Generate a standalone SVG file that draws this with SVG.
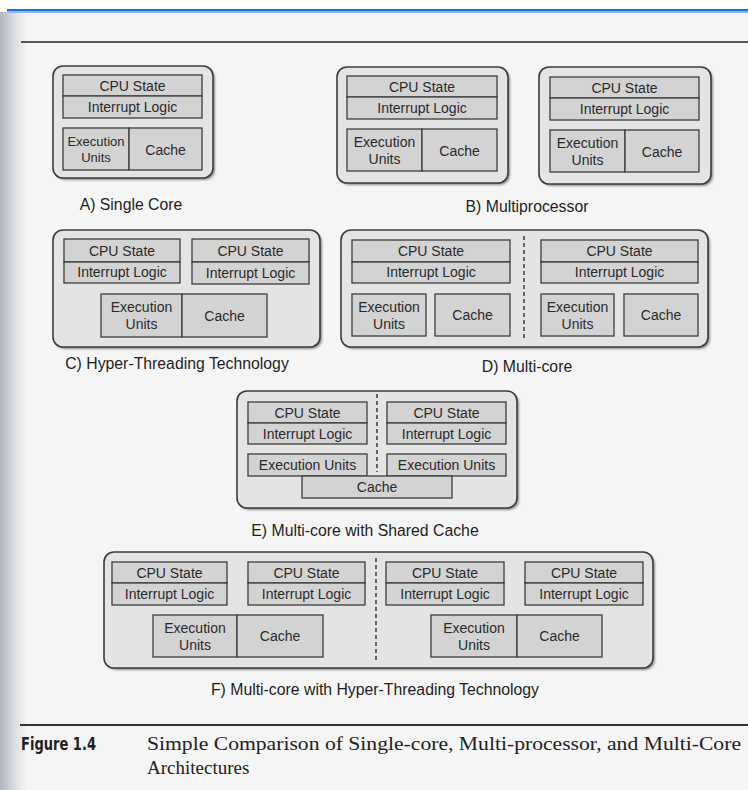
<svg xmlns="http://www.w3.org/2000/svg" width="748" height="790" viewBox="0 0 748 790">
  <defs>
    <linearGradient id="edge" x1="0" y1="0" x2="1" y2="0">
      <stop offset="0" stop-color="#b4b6be"/>
      <stop offset="0.5" stop-color="#d8d9de"/>
      <stop offset="1" stop-color="#f3f3f3"/>
    </linearGradient>
    <filter id="soft" x="-5%" y="-5%" width="110%" height="110%">
      <feGaussianBlur stdDeviation="1"/>
    </filter>
    <style>
      .outer { fill: #e4e4e4; stroke: #3c3c3c; stroke-width: 1.6; }
      .shadow { fill: #8a8a8a; filter: url(#soft); }
      .cell { fill: #d3d3d3; stroke: #3c3c3c; stroke-width: 1.3; }
      .t { font-family: "Liberation Sans", Arial, sans-serif; font-size: 14px; fill: #2a2a2a; text-anchor: middle; }
      .sm { font-size: 13px; }
      .lbl { font-family: "Liberation Sans", Arial, sans-serif; font-size: 15.8px; fill: #1e1e1e; text-anchor: middle; }
      .sep { stroke: #444; stroke-width: 1.6; stroke-dasharray: 4 3; fill: none; }
    </style>
  </defs>

  <!-- page -->
  <rect x="0" y="0" width="748" height="790" fill="#f5f5f5"/>
  <rect x="0" y="0" width="748" height="12" fill="#ffffff"/>
  <rect x="0" y="12" width="26" height="778" fill="url(#edge)"/>
  <rect x="7" y="9" width="741" height="2.5" fill="#1d6fe0"/>
  <rect x="7" y="11.5" width="741" height="1.5" fill="#8fb8f0"/>
  <line x1="21" y1="42" x2="748" y2="42" stroke="#222" stroke-width="1.6"/>

  <!-- A) Single Core -->
  <g id="single-core">
    <rect class="shadow" x="55" y="68" width="160" height="112" rx="10"/>
    <rect class="outer" x="53" y="66" width="160" height="112" rx="10"/>
    <rect class="cell" x="63" y="75" width="139" height="21"/>
    <rect class="cell" x="63" y="96" width="139" height="22"/>
    <rect class="cell" x="63" y="128" width="66" height="42"/>
    <rect class="cell" x="129" y="128" width="73" height="42"/>
    <text class="t" x="132.5" y="91">CPU State</text>
    <text class="t" x="132.5" y="112">Interrupt Logic</text>
    <text class="t sm" x="96" y="146">Execution</text>
    <text class="t sm" x="96" y="162">Units</text>
    <text class="t" x="165.5" y="155">Cache</text>
    <text class="lbl" x="131" y="210">A) Single Core</text>
  </g>

  <!-- B) Multiprocessor -->
  <g id="multiprocessor-1">
    <rect class="shadow" x="339" y="69" width="171" height="116" rx="10"/>
    <rect class="outer" x="337" y="67" width="171" height="116" rx="10"/>
    <rect class="cell" x="347" y="76" width="150" height="21"/>
    <rect class="cell" x="347" y="97" width="150" height="22"/>
    <rect class="cell" x="347" y="129" width="75" height="42"/>
    <rect class="cell" x="422" y="129" width="75" height="42"/>
    <text class="t" x="422" y="92">CPU State</text>
    <text class="t" x="422" y="113">Interrupt Logic</text>
    <text class="t" x="384.5" y="147">Execution</text>
    <text class="t" x="384.5" y="164">Units</text>
    <text class="t" x="459.5" y="156">Cache</text>
  </g>
  <g id="multiprocessor-2">
    <rect class="shadow" x="541" y="69" width="172" height="117" rx="10"/>
    <rect class="outer" x="539" y="67" width="172" height="117" rx="10"/>
    <rect class="cell" x="550" y="77" width="149" height="21"/>
    <rect class="cell" x="550" y="98" width="149" height="22"/>
    <rect class="cell" x="550" y="130" width="75" height="42"/>
    <rect class="cell" x="625" y="130" width="74" height="42"/>
    <text class="t" x="624.5" y="93">CPU State</text>
    <text class="t" x="624.5" y="114">Interrupt Logic</text>
    <text class="t" x="587.5" y="148">Execution</text>
    <text class="t" x="587.5" y="165">Units</text>
    <text class="t" x="662" y="157">Cache</text>
  </g>
  <text class="lbl" x="527" y="212">B) Multiprocessor</text>

  <!-- C) Hyper-Threading Technology -->
  <g id="hyper-threading">
    <rect class="shadow" x="55" y="232" width="267" height="117" rx="10"/>
    <rect class="outer" x="53" y="230" width="267" height="117" rx="10"/>
    <rect class="cell" x="64" y="239" width="116" height="23"/>
    <rect class="cell" x="64" y="262" width="116" height="21"/>
    <rect class="cell" x="192" y="239" width="117" height="23"/>
    <rect class="cell" x="192" y="262" width="117" height="22"/>
    <rect class="cell" x="101" y="294" width="81" height="43"/>
    <rect class="cell" x="182" y="294" width="85" height="43"/>
    <text class="t" x="122" y="256">CPU State</text>
    <text class="t" x="122" y="277">Interrupt Logic</text>
    <text class="t" x="250.5" y="256">CPU State</text>
    <text class="t" x="250.5" y="278">Interrupt Logic</text>
    <text class="t" x="141.5" y="312">Execution</text>
    <text class="t" x="141.5" y="329">Units</text>
    <text class="t" x="224.5" y="321">Cache</text>
    <text class="lbl" x="177" y="369">C) Hyper-Threading Technology</text>
  </g>

  <!-- D) Multi-core -->
  <g id="multi-core">
    <rect class="shadow" x="343" y="232" width="367" height="117" rx="10"/>
    <rect class="outer" x="341" y="230" width="367" height="117" rx="10"/>
    <rect class="cell" x="352" y="240" width="158" height="22"/>
    <rect class="cell" x="352" y="262" width="158" height="21"/>
    <rect class="cell" x="352" y="294" width="74" height="42"/>
    <rect class="cell" x="435" y="294" width="75" height="42"/>
    <rect class="cell" x="541" y="240" width="157" height="22"/>
    <rect class="cell" x="541" y="262" width="157" height="21"/>
    <rect class="cell" x="541" y="294" width="73" height="42"/>
    <rect class="cell" x="624" y="294" width="74" height="42"/>
    <text class="t" x="431" y="256">CPU State</text>
    <text class="t" x="431" y="277">Interrupt Logic</text>
    <text class="t" x="389" y="312">Execution</text>
    <text class="t" x="389" y="329">Units</text>
    <text class="t" x="472.5" y="320">Cache</text>
    <text class="t" x="619.5" y="256">CPU State</text>
    <text class="t" x="619.5" y="277">Interrupt Logic</text>
    <text class="t" x="577.5" y="312">Execution</text>
    <text class="t" x="577.5" y="329">Units</text>
    <text class="t" x="661" y="320">Cache</text>
    <text class="lbl" x="527" y="372">D) Multi-core</text>
  </g>

  <!-- E) Multi-core with Shared Cache -->
  <g id="shared-cache">
    <rect class="shadow" x="239" y="393" width="280" height="117" rx="10"/>
    <rect class="outer" x="237" y="391" width="280" height="117" rx="10"/>
    <rect class="cell" x="248" y="402" width="119" height="21"/>
    <rect class="cell" x="248" y="423" width="119" height="21"/>
    <rect class="cell" x="387" y="402" width="119" height="21"/>
    <rect class="cell" x="387" y="423" width="119" height="21"/>
    <rect class="cell" x="248" y="454" width="119" height="22"/>
    <rect class="cell" x="387" y="454" width="119" height="22"/>
    <rect class="cell" x="302" y="476" width="150" height="22"/>
    <text class="t" x="307.5" y="418">CPU State</text>
    <text class="t" x="307.5" y="439">Interrupt Logic</text>
    <text class="t" x="446.5" y="418">CPU State</text>
    <text class="t" x="446.5" y="439">Interrupt Logic</text>
    <text class="t" x="307.5" y="470">Execution Units</text>
    <text class="t" x="446.5" y="470">Execution Units</text>
    <text class="t" x="377" y="492">Cache</text>
    <text class="lbl" x="365" y="536">E) Multi-core with Shared Cache</text>
  </g>

  <!-- F) Multi-core with Hyper-Threading Technology -->
  <g id="multi-core-ht">
    <rect class="shadow" x="106" y="554" width="549" height="116" rx="10"/>
    <rect class="outer" x="104" y="552" width="549" height="116" rx="10"/>
    <rect class="cell" x="112" y="562" width="115" height="21"/>
    <rect class="cell" x="112" y="583" width="115" height="22"/>
    <rect class="cell" x="248" y="562" width="117" height="21"/>
    <rect class="cell" x="248" y="583" width="117" height="22"/>
    <rect class="cell" x="153" y="615" width="84" height="42"/>
    <rect class="cell" x="237" y="615" width="86" height="42"/>
    <rect class="cell" x="386" y="562" width="118" height="21"/>
    <rect class="cell" x="386" y="583" width="118" height="22"/>
    <rect class="cell" x="525" y="562" width="118" height="21"/>
    <rect class="cell" x="525" y="583" width="118" height="22"/>
    <rect class="cell" x="431" y="615" width="86" height="42"/>
    <rect class="cell" x="517" y="615" width="85" height="42"/>
    <text class="t" x="169.5" y="578">CPU State</text>
    <text class="t" x="169.5" y="599">Interrupt Logic</text>
    <text class="t" x="306.5" y="578">CPU State</text>
    <text class="t" x="306.5" y="599">Interrupt Logic</text>
    <text class="t" x="195" y="633">Execution</text>
    <text class="t" x="195" y="650">Units</text>
    <text class="t" x="280" y="641">Cache</text>
    <text class="t" x="445" y="578">CPU State</text>
    <text class="t" x="445" y="599">Interrupt Logic</text>
    <text class="t" x="584" y="578">CPU State</text>
    <text class="t" x="584" y="599">Interrupt Logic</text>
    <text class="t" x="474" y="633">Execution</text>
    <text class="t" x="474" y="650">Units</text>
    <text class="t" x="559.5" y="641">Cache</text>
    <text class="lbl" x="375" y="695">F) Multi-core with Hyper-Threading Technology</text>
  </g>

  <!-- core separators -->
  <g id="connectors">
    <line class="sep" x1="524" y1="236" x2="524" y2="341"/>
    <line class="sep" x1="377" y1="394" x2="377" y2="472"/>
    <line class="sep" x1="376" y1="558" x2="376" y2="660"/>
  </g>

  <!-- caption -->
  <line x1="20" y1="725" x2="748" y2="725" stroke="#333" stroke-width="2"/>
  <text x="21" y="750" font-family="'DejaVu Sans Condensed', 'DejaVu Sans', sans-serif" font-weight="bold" font-size="18" fill="#222" textLength="75" lengthAdjust="spacingAndGlyphs">Figure 1.4</text>
  <text x="147" y="750" font-family="'Liberation Serif', 'Times New Roman', serif" font-size="19" fill="#222" textLength="594" lengthAdjust="spacingAndGlyphs">Simple Comparison of Single-core, Multi-processor, and Multi-Core</text>
  <text x="147" y="774" font-family="'Liberation Serif', 'Times New Roman', serif" font-size="19" fill="#222">Architectures</text>
</svg>
